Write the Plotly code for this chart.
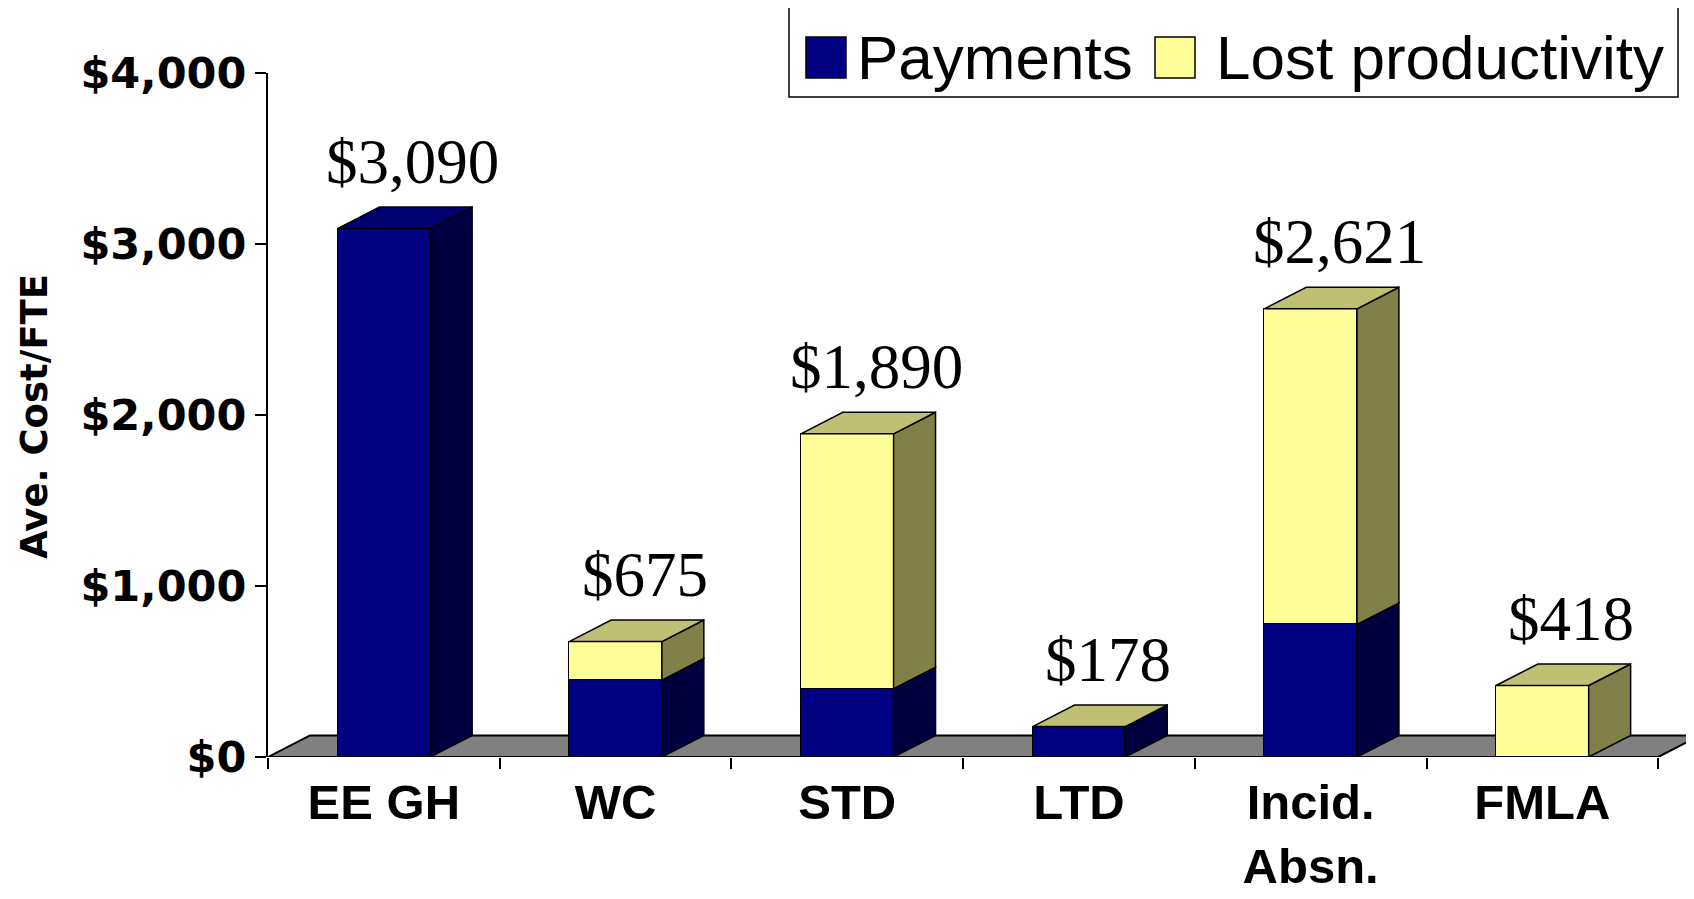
import plotly.graph_objects as go

# Average cost per FTE, split into payments and lost productivity
categories = ["EE GH", "WC", "STD", "LTD", "Incid.<br>Absn.", "FMLA"]
payments = [3090, 450, 400, 178, 775, 0]
lost_productivity = [None, 225, 1490, 0, 1846, 418]
y_ticks = [0, 1000, 2000, 3000, 4000]
y_labels = [f"${v:,}" for v in y_ticks]

series = [
    ("Payments", payments, "#000080", "#000040", "#00006e"),
    ("Lost productivity", lost_productivity, "#FFFF99", "#808048", "#C0C074"),
]

# 3D look of the old Excel chart
bar_w = 0.4
dx = 0.181  # depth in category units
dy = 126    # depth in value units

# the page body has an 8px margin, so the figure is a bit smaller than the window
OFF = 8
W, H = 1694 - OFF, 899 - OFF
ml, mr, mt, mb = 268 - OFF, 0, 73 - OFF, 142
plot_w = W - ml - mr
plot_h = H - mt - mb
x_range = [-0.5, -0.5 + plot_w / 231.7]

fig = go.Figure()
xs = list(range(len(categories)))
for name, vals, front, side, top in series:
    fig.add_trace(go.Bar(
        x=xs, y=[v if v is not None else 0 for v in vals], name=name,
        width=bar_w, marker=dict(color=front, line=dict(color="black", width=1.5)),
        showlegend=False, hoverinfo="skip",
    ))

shapes = []
# floor
n = len(categories)
shapes.append(dict(
    type="path", xref="x", yref="y", layer="below",
    path=f"M {-0.5},0 L {-0.5 + dx},{dy} L {n - 0.5 + dx},{dy} L {n - 0.5},0 Z",
    fillcolor="#808080", line=dict(color="black", width=2),
))

# side and top faces from the stacked values
for i in xs:
    base = 0
    top_color = None
    for name, vals, front, side, top in series:
        v = vals[i]
        if v is None:
            continue
        x1 = i + bar_w / 2
        if v > 0:
            shapes.append(dict(
                type="path", xref="x", yref="y",
                path=f"M {x1},{base} L {x1 + dx},{base + dy} L {x1 + dx},{base + v + dy} L {x1},{base + v} Z",
                fillcolor=side, line=dict(color="black", width=1.5),
            ))
        base += v
        top_color = top
    x0 = i - bar_w / 2
    x1 = i + bar_w / 2
    shapes.append(dict(
        type="path", xref="x", yref="y",
        path=f"M {x0},{base} L {x0 + dx},{base + dy} L {x1 + dx},{base + dy} L {x1},{base} Z",
        fillcolor=top_color, line=dict(color="black", width=1.5),
    ))

annotations = []
for i in xs:
    total = sum(v for v in (payments[i], lost_productivity[i]) if v is not None)
    annotations.append(dict(
        x=i, y=total, xref="x", yref="y", text=f"${total:,}", showarrow=False,
        xanchor="center", yanchor="bottom", xshift=29, yshift=30,
        font=dict(family="Liberation Serif", size=63, color="black"),
    ))


# page pixel -> paper coords
def px(x):
    return (x - OFF - ml) / plot_w


def py(y):
    return (H - mb - (y - OFF)) / plot_h


# legend drawn by hand so the swatches can be big
shapes.append(dict(type="rect", xref="paper", yref="paper",
                   x0=px(789), x1=px(1678), y0=py(97), y1=py(7),
                   line=dict(color="black", width=1.5), fillcolor="white"))
legend_items = [(806, 855, series[0]), (1155, 1214, series[1])]
for sx, tx, (name, vals, front, side, top) in legend_items:
    shapes.append(dict(type="rect", xref="paper", yref="paper",
                       x0=px(sx), x1=px(sx + 40), y0=py(78), y1=py(37),
                       line=dict(color="black", width=1.5), fillcolor=front))
    annotations.append(dict(x=px(tx), y=py(57), xref="paper", yref="paper",
                            text=name, showarrow=False, xanchor="left", yanchor="middle",
                            font=dict(family="Liberation Sans", size=62, color="black")))

annotations.append(dict(x=px(34), y=py(417), xref="paper", yref="paper",
                        text="Ave. Cost/FTE", textangle=-90, showarrow=False,
                        xanchor="center", yanchor="middle",
                        font=dict(family="DejaVu Sans", size=37, color="black", weight="bold")))

fig.update_layout(
    barmode="stack",
    width=W, height=H,
    margin=dict(l=ml, r=mr, t=mt, b=mb),
    plot_bgcolor="white", paper_bgcolor="white",
    shapes=shapes, annotations=annotations,
    bargap=0,
)
fig.update_xaxes(
    range=x_range, tickmode="array", tickvals=xs, ticktext=categories,
    ticks="", showline=False, showgrid=False, zeroline=False, automargin=False,
    tickfont=dict(family="Liberation Sans", size=49, color="black", weight="bold"),
    ticklabelstandoff=12,
    minor=dict(tickmode="array", tickvals=[i - 0.5 for i in range(n + 1)],
               ticks="outside", ticklen=11, tickwidth=2, tickcolor="black", showgrid=False),
)
fig.update_yaxes(
    range=[0, 4000], tickmode="array", tickvals=y_ticks, ticktext=y_labels,
    ticks="outside", ticklen=11, tickwidth=2, tickcolor="black", automargin=False,
    showline=True, linecolor="black", linewidth=2, showgrid=False, zeroline=False,
    tickfont=dict(family="DejaVu Sans", size=43, color="black", weight="bold"),
    ticklabelstandoff=0,
)

fig.write_html("out.html")
